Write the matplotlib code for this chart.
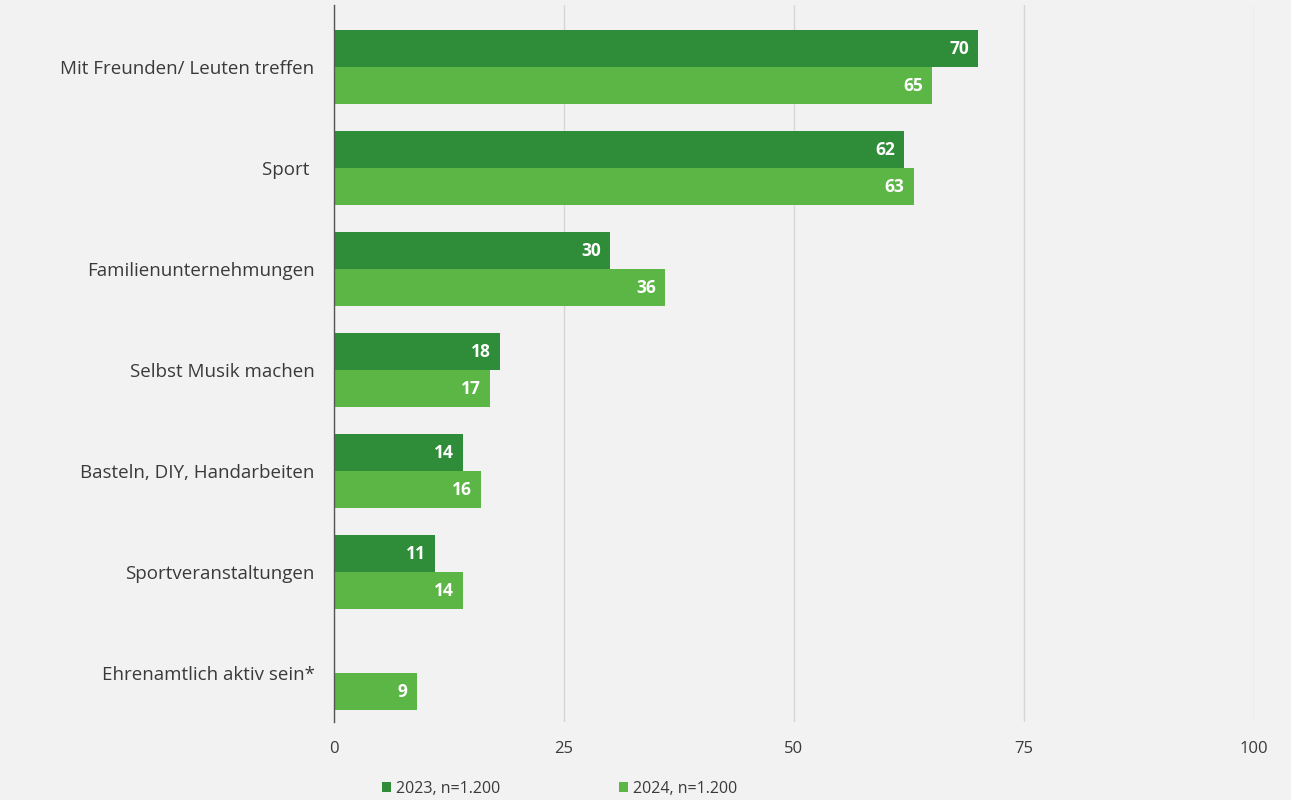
import matplotlib.pyplot as plt
import numpy as np

plt.rcParams['font.family'] = ['Open Sans', 'DejaVu Sans']

categories = ['Mit Freunden/ Leuten treffen', 'Sport ', 'Familienunternehmungen',
              'Selbst Musik machen', 'Basteln, DIY, Handarbeiten',
              'Sportveranstaltungen', 'Ehrenamtlich aktiv sein*']
val_2023 = [70, 62, 30, 18, 14, 11, np.nan]
val_2024 = [65, 63, 36, 17, 16, 14, 9]
ticks = [0, 25, 50, 75, 100]

c23 = '#2f8c38'
c24 = '#5bb646'
bg = '#f2f2f2'
txt = '#3a3a3a'

fig = plt.figure(figsize=(12.91, 8), dpi=100, facecolor=bg)
ax = fig.add_axes([0.2587, 0.0975, 0.7126, 0.896], facecolor=bg)

y = np.arange(len(categories))
h = 0.366
b1 = ax.barh(y - h / 2, val_2023, height=h, color=c23, label='2023, n=1.200', zorder=3)
b2 = ax.barh(y + h / 2, val_2024, height=h, color=c24, label='2024, n=1.200', zorder=3)

for bars, vals in ((b1, val_2023), (b2, val_2024)):
    for bar, v in zip(bars, vals):
        if np.isnan(v):
            continue
        ax.text(v - 1.0, bar.get_y() + bar.get_height() / 2, str(int(v)),
                ha='right', va='center', color='white', fontsize=12.5,
                fontweight='bold', zorder=4)

ax.set_xlim(0, 100)
ax.set_ylim(6.485, -0.614)
ax.set_xticks(ticks)
ax.set_yticks(y)
ax.set_yticklabels(categories, fontsize=13.5, color=txt)
ax.tick_params(axis='x', labelsize=12, colors=txt, length=0, pad=14)
ax.tick_params(axis='y', length=0, pad=14)
ax.grid(axis='x', color='#d6d6d6', linewidth=1, zorder=0)
for s in ['top', 'right', 'bottom']:
    ax.spines[s].set_visible(False)
ax.spines['left'].set_color('#555555')
ax.spines['left'].set_linewidth(1)
ax.spines['left'].set_zorder(5)

ax.legend(loc='upper left', bbox_to_anchor=(0.037, -0.062), ncol=2, frameon=False,
          fontsize=11.5, handlelength=0.55, handleheight=0.55, handletextpad=0.3,
          columnspacing=7.45, labelcolor=txt)

plt.savefig('out.png', dpi=100, facecolor=bg)
